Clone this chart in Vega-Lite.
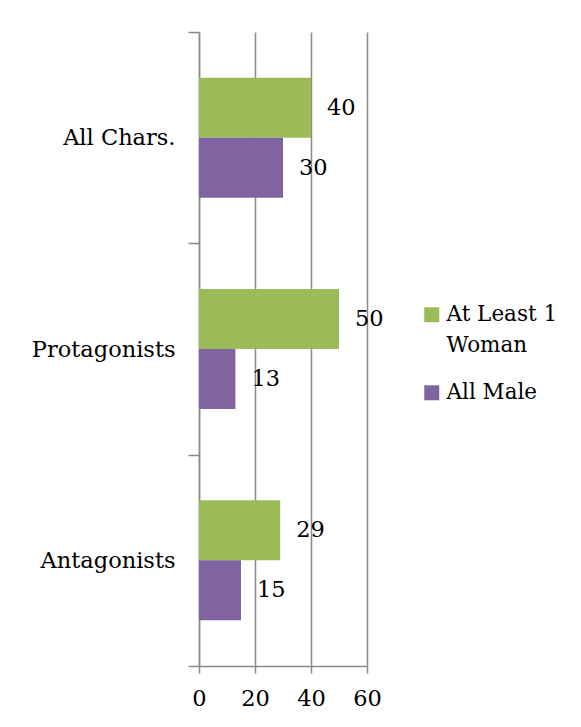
{
  "$schema": "https://vega.github.io/schema/vega-lite/v6.json",
  "width": 168,
  "height": 634,
  "autosize": {"type": "none"},
  "padding": {"left": 199, "top": 32, "right": 214, "bottom": 61},
  "background": "white",
  "config": {
    "view": {"stroke": null},
    "style": {"guide-label": {"lineHeight": 31}}
  },
  "data": {
    "values": [
      {"group": "All Chars.", "series": "At Least 1 Woman", "value": 40},
      {"group": "All Chars.", "series": "All Male", "value": 30},
      {"group": "Protagonists", "series": "At Least 1 Woman", "value": 50},
      {"group": "Protagonists", "series": "All Male", "value": 13},
      {"group": "Antagonists", "series": "At Least 1 Woman", "value": 29},
      {"group": "Antagonists", "series": "All Male", "value": 15}
    ]
  },
  "encoding": {
    "y": {
      "field": "group",
      "type": "nominal",
      "sort": ["All Chars.", "Protagonists", "Antagonists"],
      "scale": {"paddingInner": 0, "paddingOuter": 0},
      "axis": {
        "title": null,
        "domainColor": "#8a8a8a",
        "domainWidth": 1.5,
        "tickColor": "#8a8a8a",
        "tickWidth": 1.5,
        "tickSize": 11,
        "tickBand": "extent",
        "labelPadding": 13,
        "labelFont": "DejaVu Serif",
        "labelFontSize": 22.5,
        "labelColor": "black",
        "grid": false
      }
    },
    "yOffset": {
      "field": "series",
      "sort": ["At Least 1 Woman", "All Male"],
      "scale": {"paddingInner": 0, "paddingOuter": 0.76}
    },
    "x": {
      "field": "value",
      "type": "quantitative",
      "scale": {"domain": [0, 60], "nice": false},
      "axis": {
        "title": null,
        "values": [0, 20, 40, 60],
        "grid": true,
        "gridColor": "#8a8a8a",
        "gridWidth": 1.5,
        "domainColor": "#8a8a8a",
        "domainWidth": 1.5,
        "tickColor": "#8a8a8a",
        "tickWidth": 1.5,
        "tickSize": 7,
        "labelPadding": 14,
        "labelFlush": false,
        "labelFont": "DejaVu Serif",
        "labelFontSize": 22.5,
        "labelColor": "black"
      }
    }
  },
  "layer": [
    {
      "mark": {"type": "bar"},
      "encoding": {
        "color": {
          "field": "series",
          "type": "nominal",
          "scale": {"domain": ["At Least 1 Woman", "All Male"], "range": ["#9BBB59", "#8064A2"]},
          "legend": {
            "orient": "none",
            "legendX": 222,
            "legendY": 261,
            "title": null,
            "padding": 0,
            "symbolType": "M-1,0.47H1V2.47H-1Z",
            "symbolSize": 225,
            "symbolStrokeWidth": 0,
            "symbolOpacity": 1,
            "labelOffset": 4,
            "labelFont": "DejaVu Serif",
            "labelFontSize": 21.5,
            "labelColor": "black",
            "labelLimit": 200,
            "labelBaseline": "top",
            "rowPadding": 14,
            "labelExpr": "datum.label == 'At Least 1 Woman' ? ['At Least 1', 'Woman'] : datum.label"
          }
        }
      }
    },
    {
      "mark": {"type": "text", "align": "left", "baseline": "middle", "dx": 16, "font": "DejaVu Serif", "fontSize": 22.5, "color": "black"},
      "encoding": {"text": {"field": "value", "type": "quantitative"}}
    }
  ]
}
